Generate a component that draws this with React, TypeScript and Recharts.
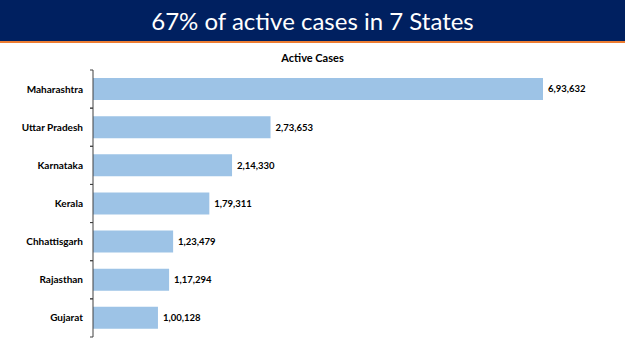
import { BarChart, Bar, XAxis, YAxis, LabelList, ReferenceLine } from 'recharts'

const states = ['Maharashtra', 'Uttar Pradesh', 'Karnataka', 'Kerala', 'Chhattisgarh', 'Rajasthan', 'Gujarat']
const activeCases = [693632, 273653, 214330, 179311, 123479, 117294, 100128]

const data = states.map((state, i) => ({ state, cases: activeCases[i] }))

// Indian digit grouping: 6,93,632
function formatIndian(v: number): string {
  const s = String(v)
  if (s.length <= 3) return s
  const last3 = s.slice(-3)
  const rest = s.slice(0, -3).replace(/\B(?=(\d{2})+(?!\d))/g, ',')
  return `${rest},${last3}`
}

const FONT = 'Lato, "Open Sans", sans-serif'
const BAND = 267 / 7

function StateTick(props: any) {
  const { x, y, payload } = props
  const half = BAND / 2
  return (
    <g>
      <text x={x - 10} y={y} dy={3.5} textAnchor="end" fontSize={10} fontWeight={700} fill="#000" fontFamily={FONT}>
        {payload.value}
      </text>
      <line x1={x - 3} x2={x} y1={y - half} y2={y - half} stroke="#404040" />
      <line x1={x - 3} x2={x} y1={y + half} y2={y + half} stroke="#404040" />
    </g>
  )
}

export default function App() {
  return (
    <div style={{ position: 'absolute', left: 0, top: 0, width: 625, height: 351, background: '#fff', overflow: 'hidden' }}>
      <div
        style={{
          position: 'absolute',
          left: 0,
          top: 0,
          width: 625,
          height: 41,
          background: '#002060',
          borderBottom: '2px solid #ed7d31',
          color: '#fff',
          fontFamily: FONT,
          fontSize: 24,
          lineHeight: '41px',
          textAlign: 'center',
        }}
      >
        67% of active cases in 7 States
      </div>
      <div
        style={{
          position: 'absolute',
          left: 0,
          top: 51,
          width: 625,
          textAlign: 'center',
          fontFamily: FONT,
          fontWeight: 700,
          fontSize: 11,
        }}
      >
        Active Cases
      </div>
      <BarChart
        width={625}
        height={351}
        data={data}
        layout="vertical"
        margin={{ top: 70, right: 13, bottom: 14, left: 0 }}
        barCategoryGap="21%"
      >
        <XAxis type="number" domain={[0, 800000]} hide />
        <YAxis
          type="category"
          dataKey="state"
          width={93}
          axisLine={false}
          tickLine={false}
          tickSize={0}
          tickMargin={0}
          tick={<StateTick />}
          interval={0}
        />
        <Bar dataKey="cases" fill="#9dc3e6" isAnimationActive={false}>
          <LabelList
            dataKey="cases"
            position="right"
            offset={5}
            formatter={(v: any) => formatIndian(Number(v))}
            style={{ fontSize: 9.5, fontWeight: 700, fill: '#000', fontFamily: FONT }}
          />
        </Bar>
        <ReferenceLine x={0} stroke="#404040" strokeWidth={1} />
      </BarChart>
    </div>
  )
}
